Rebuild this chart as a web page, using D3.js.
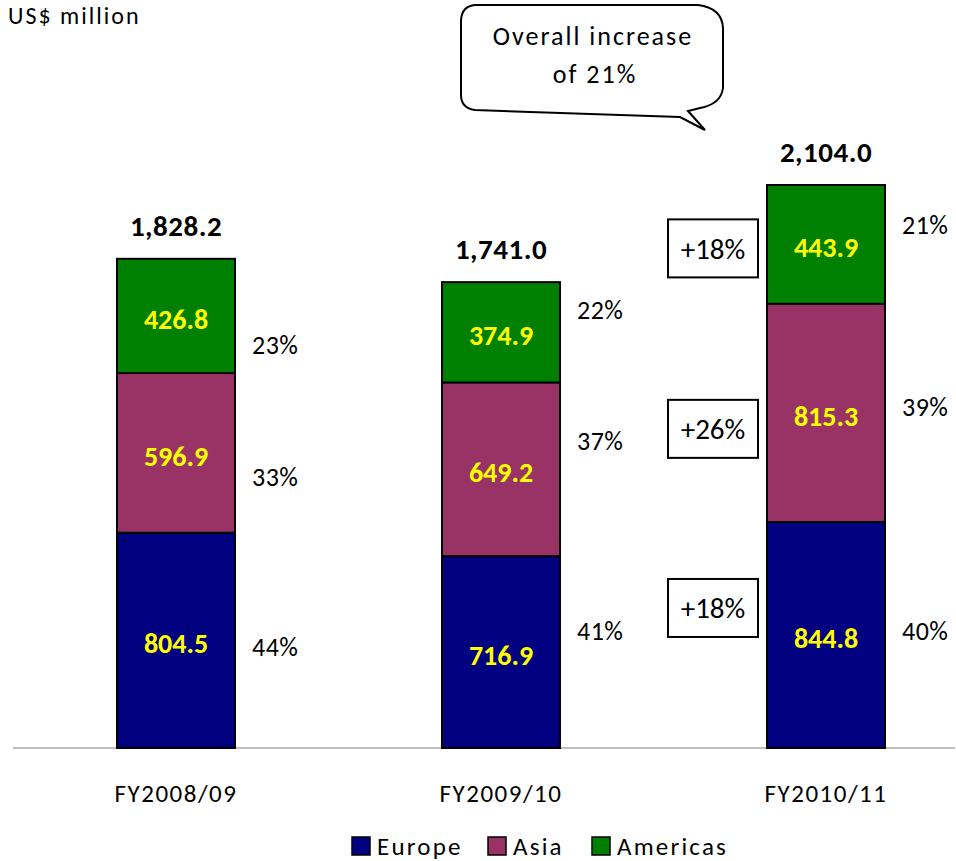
<!DOCTYPE html>
<html>
<head>
<meta charset="utf-8">
<script src="https://cdn.jsdelivr.net/npm/d3@7"></script>
<style>
  body { margin: 0; background: #fff; }
  svg { display: block; font-family: Carlito, Lato, "Open Sans", sans-serif; }
</style>
</head>
<body>
<svg id="chart" width="956" height="861"></svg>
<script>
const years = ["FY2008/09", "FY2009/10", "FY2010/11"];
const regions = ["Europe", "Asia", "Americas"];
const europe = [804.5, 716.9, 844.8];
const asia = [596.9, 649.2, 815.3];
const americas = [426.8, 374.9, 443.9];
const totals = [1828.2, 1741.0, 2104.0];
const colors = ["#000080", "#993366", "#008000"];

// pixel nudges for the side labels, per bar then per region (Europe, Asia, Americas)
const pctNudge = [[7, 24, 29], [-21, -28, -22], [-4, -6, -19]];
const boxNudge = [-27, 16, 4];

const svg = d3.select("#chart");
const baseY = 748;

const rows = years.map((y, i) => ({ year: y, Europe: europe[i], Asia: asia[i], Americas: americas[i] }));
const series = d3.stack().keys(regions)(rows);

const x = d3.scaleBand()
  .domain(years)
  .range([13.5, 988.5])
  .paddingInner(0.637)
  .paddingOuter(0.3185);

const y = d3.scaleLinear()
  .domain([0, d3.max(totals)])
  .range([baseY, 185]);

const color = d3.scaleOrdinal().domain(regions).range(colors);

// baseline
svg.append("line")
  .attr("x1", 13).attr("x2", 955)
  .attr("y1", baseY).attr("y2", baseY)
  .attr("stroke", "#bfbfbf").attr("stroke-width", 2);

const layers = svg.selectAll("g.layer")
  .data(series)
  .enter()
  .append("g")
  .attr("class", "layer");

layers.selectAll("rect")
  .data(s => s.map(d => ({ key: s.key, d: d })))
  .enter()
  .append("rect")
  .attr("x", a => x(a.d.data.year))
  .attr("y", a => y(a.d[1]))
  .attr("width", x.bandwidth())
  .attr("height", a => y(a.d[0]) - y(a.d[1]))
  .attr("fill", a => color(a.key))
  .attr("stroke", "#000")
  .attr("stroke-width", 2);

// values inside the segments
layers.selectAll("text.val")
  .data(s => s.map(d => ({ key: s.key, d: d })))
  .enter()
  .append("text")
  .attr("class", "val")
  .attr("x", a => x(a.d.data.year) + x.bandwidth() / 2)
  .attr("y", a => (y(a.d[0]) + y(a.d[1])) / 2 + 3)
  .attr("dy", "0.35em")
  .attr("text-anchor", "middle")
  .attr("fill", "#ffff00")
  .attr("font-weight", "bold")
  .attr("font-size", 28)
  .text(a => (a.d[1] - a.d[0]).toFixed(1));

// share percentages to the right
series.forEach((s, ri) => {
  s.forEach((d, i) => {
    svg.append("text")
      .attr("x", x(years[i]) + x.bandwidth() + 17)
      .attr("y", (y(d[0]) + y(d[1])) / 2 + pctNudge[i][ri])
      .attr("dy", "0.35em")
      .attr("font-size", 26)
      .attr("letter-spacing", 0.5)
      .attr("fill", "#000")
      .text(Math.round((d[1] - d[0]) / totals[i] * 100) + "%");
  });
});

// totals above bars
svg.selectAll("text.total")
  .data(totals)
  .enter()
  .append("text")
  .attr("class", "total")
  .attr("x", (t, i) => x(years[i]) + x.bandwidth() / 2)
  .attr("y", t => y(t) - 33)
  .attr("dy", "0.35em")
  .attr("text-anchor", "middle")
  .attr("font-weight", "bold")
  .attr("font-size", 29)
  .attr("letter-spacing", 0.5)
  .text(t => d3.format(",.1f")(t));

// growth boxes next to last bar
const last = years.length - 1;
series.forEach((s, ri) => {
  const d = s[last];
  const prev = s[last - 1];
  const growth = Math.round(((d[1] - d[0]) / (prev[1] - prev[0]) - 1) * 100);
  const cy = (y(d[0]) + y(d[1])) / 2 + boxNudge[ri];
  const bx = x(years[last]) - 99;
  svg.append("rect")
    .attr("x", bx).attr("y", cy - 29)
    .attr("width", 90).attr("height", 58)
    .attr("fill", "#fff").attr("stroke", "#000").attr("stroke-width", 2);
  svg.append("text")
    .attr("x", bx + 45).attr("y", cy)
    .attr("dy", "0.35em")
    .attr("text-anchor", "middle")
    .attr("font-size", 29)
    .text("+" + growth + "%");
});

// category labels
svg.append("g")
  .attr("transform", `translate(0, ${baseY})`)
  .call(d3.axisBottom(x).tickSize(0).tickPadding(36))
  .call(g => g.select(".domain").remove())
  .call(g => g.selectAll("text")
    .attr("font-family", "Carlito, Lato, 'Open Sans', sans-serif")
    .attr("font-size", 25)
    .attr("letter-spacing", 1.5)
    .attr("fill", "#000"));

// unit
svg.append("text")
  .attr("x", 8).attr("y", 16)
  .attr("dy", "0.35em")
  .attr("font-size", 24)
  .attr("letter-spacing", 2)
  .text("US$ million");

// callout bubble
svg.append("path")
  .attr("d", "M475,5 L698,5 Q722,8 723,28 L723,88 Q721,104 700,108 L688,111 L705,130 L680,117 L475,110 Q461,108 461,95 L461,20 Q462,6 475,5 Z")
  .attr("fill", "#fff")
  .attr("stroke", "#000")
  .attr("stroke-width", 2);

svg.append("text")
  .attr("x", 593).attr("y", 36)
  .attr("dy", "0.35em")
  .attr("text-anchor", "middle")
  .attr("font-size", 26)
  .attr("letter-spacing", 2)
  .text("Overall increase");
svg.append("text")
  .attr("x", 595).attr("y", 74)
  .attr("dy", "0.35em")
  .attr("text-anchor", "middle")
  .attr("font-size", 26)
  .attr("letter-spacing", 2)
  .text("of " + Math.round((totals[last] / totals[last - 1] - 1) * 100) + "%");

// legend
const legendX = [352, 488, 592];
const legend = svg.selectAll("g.leg")
  .data(regions)
  .enter()
  .append("g")
  .attr("class", "leg")
  .attr("transform", (r, i) => `translate(${legendX[i]}, 837)`);

legend.append("rect")
  .attr("width", 18).attr("height", 18)
  .attr("fill", r => color(r))
  .attr("stroke", "#000").attr("stroke-width", 1.5);

legend.append("text")
  .attr("x", 25).attr("y", 9)
  .attr("dy", "0.35em")
  .attr("font-size", 25)
  .attr("letter-spacing", 2.2)
  .text(r => r);
</script>
</body>
</html>
